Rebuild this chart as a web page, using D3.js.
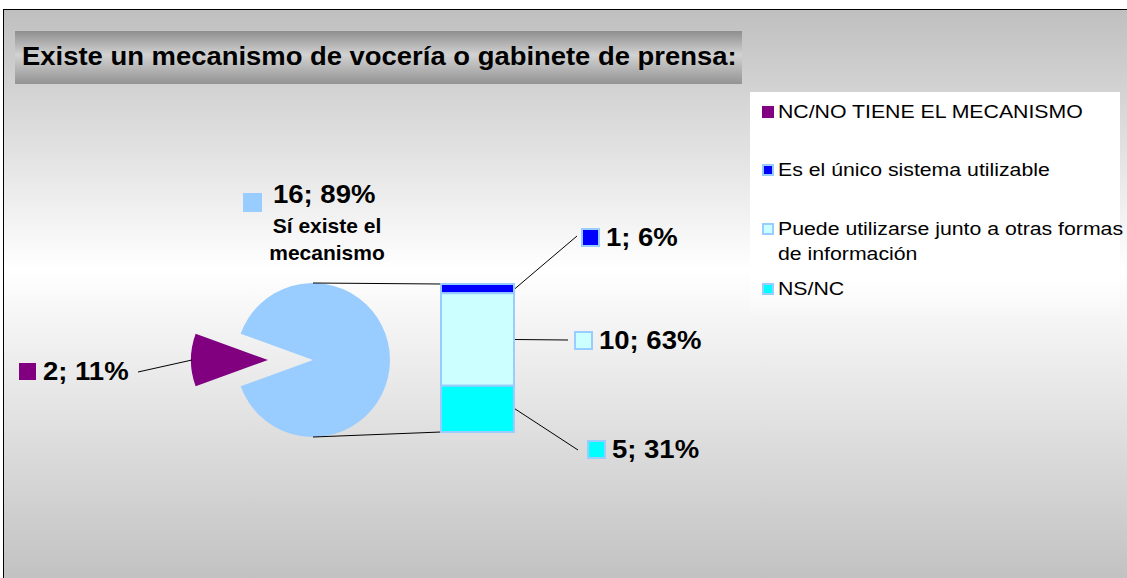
<!DOCTYPE html>
<html>
<head>
<meta charset="utf-8">
<script src="https://cdn.jsdelivr.net/npm/d3@7"></script>
<style>
  body { margin: 0; background: #fff; }
  text { font-family: Arial, "Liberation Sans", sans-serif; }
</style>
</head>
<body>
<svg id="chart" width="1127" height="578"></svg>
<script>
// data
const titleText = "Existe un mecanismo de vocería o gabinete de prensa:";
const pieLabels = ["NC/NO TIENE EL MECANISMO", "Sí existe el mecanismo"];
const pieValues = [2, 16];
const pieColors = ["#800080", "#99CCFF"];
const barLabels = ["Es el único sistema utilizable", "Puede utilizarse junto a otras formas de información", "NS/NC"];
const barValues = [1, 10, 5];
const barColors = ["#0000FF", "#CCFFFF", "#00FFFF"];

const width = 1127, height = 578;
const svg = d3.select("#chart");

// text drawn a little wider than Liberation Sans, like the original
function wideText(parent, x, y, sx, size, weight, txt, anchor) {
    return parent.append("text")
        .attr("transform", `translate(${x},${y}) scale(${sx},1)`)
        .attr("text-anchor", anchor || "start")
        .attr("font-size", size)
        .attr("font-weight", weight)
        .attr("fill", "#000")
        .text(txt);
}

// background gradients
const defs = svg.append("defs");
const bg = defs.append("linearGradient").attr("id", "bg")
    .attr("x1", 0).attr("y1", 0).attr("x2", 0).attr("y2", 1);
bg.append("stop").attr("offset", "0%").attr("stop-color", "#bfbfbf");
bg.append("stop").attr("offset", "45%").attr("stop-color", "#ffffff");
bg.append("stop").attr("offset", "100%").attr("stop-color", "#c0c0c0");

const tg = defs.append("linearGradient").attr("id", "titleBg")
    .attr("x1", 0).attr("y1", 0).attr("x2", 0).attr("y2", 1);
tg.append("stop").attr("offset", "0%").attr("stop-color", "#8e8e8e");
tg.append("stop").attr("offset", "45%").attr("stop-color", "#d2d2d2");
tg.append("stop").attr("offset", "100%").attr("stop-color", "#939393");

const lg = defs.append("linearGradient").attr("id", "legBg")
    .attr("x1", 0).attr("y1", 0).attr("x2", 0).attr("y2", 1);
lg.append("stop").attr("offset", "0%").attr("stop-color", "#ffffff");
lg.append("stop").attr("offset", "80%").attr("stop-color", "#ffffff");
lg.append("stop").attr("offset", "100%").attr("stop-color", "#ffffff").attr("stop-opacity", 0);

svg.append("rect")
    .attr("x", 3.5).attr("y", 9.5)
    .attr("width", width).attr("height", height)
    .attr("fill", "url(#bg)")
    .attr("stroke", "#000").attr("stroke-width", 1);

// title
svg.append("rect")
    .attr("x", 15).attr("y", 31).attr("width", 727).attr("height", 53)
    .attr("fill", "url(#titleBg)");
wideText(svg, 22, 65, 1.097, 25, "bold", titleText);

// pie
const cx = 313, cy = 360, r = 77, explode = 45;
const purpleAngle = 2 * Math.PI * pieValues[0] / d3.sum(pieValues);
const pie = d3.pie().sort(null)
    .startAngle(1.5 * Math.PI - purpleAngle / 2)
    .endAngle(3.5 * Math.PI - purpleAngle / 2);
const arc = d3.arc().innerRadius(0).outerRadius(r);
const pieData = pie(pieValues);

const pieG = svg.append("g").attr("transform", `translate(${cx},${cy})`);
pieG.selectAll("path")
    .data(pieData)
    .join("path")
    .attr("d", arc)
    .attr("fill", (d, i) => pieColors[i])
    .attr("transform", (d, i) => {
        if (i !== 0) return null;
        const a = (d.startAngle + d.endAngle) / 2;
        return `translate(${explode * Math.sin(a)},${-explode * Math.cos(a)})`;
    });

// stacked bar
const barX0 = 441, barX1 = 514;
const yBar = d3.scaleLinear().domain([0, d3.sum(barValues)]).range([432, 284]);
// stack from bottom: last item at bottom
const stacked = [];
let acc = 0;
for (let i = barValues.length - 1; i >= 0; i--) {
    stacked[i] = [acc, acc + barValues[i]];
    acc += barValues[i];
}

// connector lines pie -> bar
const conn = svg.append("g").attr("stroke", "#000").attr("stroke-width", 1);
conn.append("line")
    .attr("x1", cx).attr("y1", cy - r)
    .attr("x2", barX0).attr("y2", yBar(d3.sum(barValues)));
conn.append("line")
    .attr("x1", cx).attr("y1", cy + r)
    .attr("x2", barX0).attr("y2", yBar(0));

svg.append("g").selectAll("rect")
    .data(barValues)
    .join("rect")
    .attr("x", barX0)
    .attr("y", (d, i) => yBar(stacked[i][1]))
    .attr("width", barX1 - barX0)
    .attr("height", (d, i) => yBar(stacked[i][0]) - yBar(stacked[i][1]))
    .attr("fill", (d, i) => barColors[i])
    .attr("stroke", "#99CCFF").attr("stroke-width", 2);

// data labels
const pct = (v, tot) => Math.round(v / tot * 100);
const pieTot = d3.sum(pieValues), barTot = d3.sum(barValues);

function dataLabel(x, y, color, txt, border) {
    const g = svg.append("g");
    g.append("rect")
        .attr("x", x).attr("y", y - 17)
        .attr("width", 17).attr("height", 17)
        .attr("fill", color)
        .attr("stroke", border ? "#99CCFF" : "none").attr("stroke-width", 2);
    wideText(g, x + 24, y, 1.1, 25, "bold", txt);
}

// purple slice label
svg.append("line")
    .attr("x1", 138).attr("y1", 372)
    .attr("x2", cx - explode - r + 1).attr("y2", cy)
    .attr("stroke", "#000");
dataLabel(19, 380, pieColors[0], `${pieValues[0]}; ${pct(pieValues[0], pieTot)}%`, false);

// main slice label
svg.append("rect")
    .attr("x", 243).attr("y", 193).attr("width", 19).attr("height", 19)
    .attr("fill", pieColors[1]);
wideText(svg, 273, 203, 1.1, 25, "bold", `${pieValues[1]}; ${pct(pieValues[1], pieTot)}%`);
const subLines = ["Sí existe el", "mecanismo"];
subLines.forEach((s, i) => wideText(svg, 327, 233 + i * 27, 1.05, 20, "bold", s, "middle"));

// bar labels: [square x, baseline, leader end x, leader end y]
const barLabelPos = [[582, 246, 577, 236], [575, 349, 568, 340], [588, 458, 578, 450]];
barValues.forEach((v, i) => {
    const midY = yBar((stacked[i][0] + stacked[i][1]) / 2);
    const p = barLabelPos[i];
    svg.append("line")
        .attr("x1", barX1 + 1).attr("y1", midY)
        .attr("x2", p[2]).attr("y2", p[3])
        .attr("stroke", "#000");
    dataLabel(p[0], p[1], barColors[i], `${v}; ${pct(v, barTot)}%`, true);
});

// legend
svg.append("rect")
    .attr("x", 750).attr("y", 92).attr("width", 370).attr("height", 225)
    .attr("fill", "url(#legBg)");
const legendItems = [
    { color: pieColors[0], lines: [pieLabels[0]], border: false },
    { color: barColors[0], lines: ["Es el único sistema utilizable"], border: true },
    { color: barColors[1], lines: ["Puede utilizarse junto a otras formas", "de información"], border: true },
    { color: barColors[2], lines: [barLabels[2]], border: true }
];
const legendY = [112, 170, 229, 289];
const leg = svg.append("g");
legendItems.forEach((it, i) => {
    const y = legendY[i];
    leg.append("rect")
        .attr("x", it.border ? 763 : 762).attr("y", y - (it.border ? 5 : 6))
        .attr("width", it.border ? 10 : 12).attr("height", it.border ? 10 : 12)
        .attr("fill", it.color)
        .attr("stroke", it.border ? "#99CCFF" : "none").attr("stroke-width", 2);
    it.lines.forEach((ln, j) => {
        wideText(leg, 778, y + 6 + j * 25, 1.15, 18.5, "normal", ln);
    });
});
</script>
</body>
</html>
